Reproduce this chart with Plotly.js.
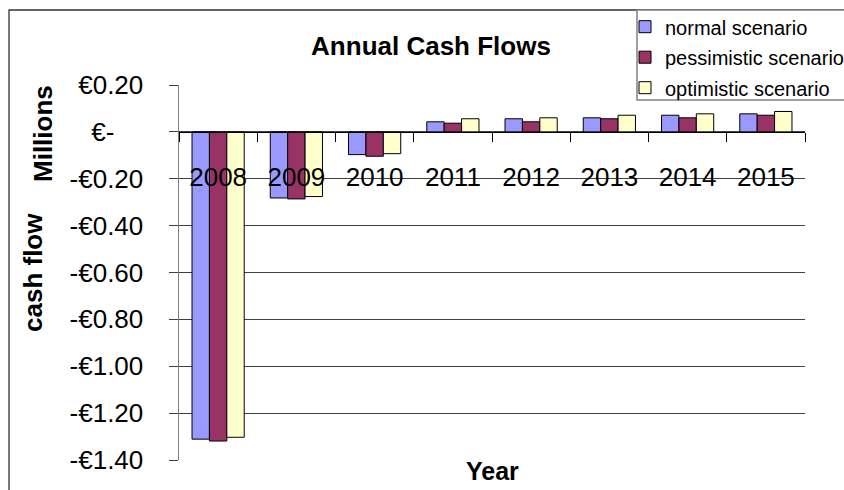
<!DOCTYPE html>
<html>
<head>
<meta charset="utf-8">
<script src="https://cdn.plot.ly/plotly-3.0.1.min.js"></script>
<style>
  html, body { margin: 0; padding: 0; background: #fff; }
  #chart { width: 844px; height: 490px; }
</style>
</head>
<body>
<div id="chart"></div>
<script>
// ---- data ----
const categories = ['2008', '2009', '2010', '2011', '2012', '2013', '2014', '2015'];
const normalScenario      = [-1.311, -0.282, -0.097, 0.043, 0.056, 0.060, 0.071, 0.077];
const pessimisticScenario = [-1.319, -0.286, -0.104, 0.037, 0.043, 0.056, 0.060, 0.071];
const optimisticScenario  = [-1.303, -0.276, -0.093, 0.056, 0.060, 0.071, 0.077, 0.087];
const seriesNames = ['normal scenario', 'pessimistic scenario', 'optimistic scenario'];
const yTickVals = [0.2, 0, -0.2, -0.4, -0.6, -0.8, -1.0, -1.2, -1.4];
const yTickText = ['€0.20', '€-\u00a0\u00a0\u00a0\u00a0', '-€0.20', '-€0.40', '-€0.60', '-€0.80', '-€1.00', '-€1.20', '-€1.40'];

const FONT = 'Arial, "Liberation Sans", sans-serif';
const colors = ['#9999FF', '#993366', '#FFFFCC'];
const seriesValues = [normalScenario, pessimisticScenario, optimisticScenario];

const traces = seriesValues.map((vals, i) => ({
  type: 'bar',
  name: seriesNames[i],
  x: categories,
  y: vals,
  legendgroup: 'g' + i,
  marker: { color: colors[i], line: { color: '#000000', width: 1 } },
  hoverinfo: 'skip'
}));

const layout = {
  width: 844,
  height: 490,
  margin: { l: 179, r: 39, t: 85, b: 30, autoexpand: false },
  paper_bgcolor: '#ffffff',
  plot_bgcolor: '#ffffff',
  font: { family: FONT, color: '#000000' },
  barmode: 'group',
  bargap: 0.333,
  bargroupgap: 0,
  title: {
    text: '<b>Annual Cash Flows</b>',
    font: { family: FONT, size: 26, color: '#000000' },
    xref: 'container', x: 431 / 844, xanchor: 'center',
    yref: 'container', y: 1 - 46.3 / 490, yanchor: 'middle'
  },
  xaxis: {
    type: 'category',
    anchor: 'free',
    position: 0.875,
    showline: true,
    linecolor: '#000000',
    linewidth: 1.3,
    ticks: 'outside',
    tickson: 'boundaries',
    ticklen: 9,
    tickwidth: 1,
    tickcolor: '#000000',
    ticklabelstandoff: 22,
    showgrid: false,
    zeroline: false,
    tickfont: { family: FONT, size: 26, color: '#000000' },
    fixedrange: true
  },
  yaxis: {
    range: [-1.4, 0.2],
    tickmode: 'array',
    tickvals: yTickVals,
    ticktext: yTickText,
    showline: true,
    linecolor: '#808080',
    linewidth: 1.5,
    ticks: 'outside',
    ticklen: 9,
    tickwidth: 1,
    tickcolor: '#404040',
    ticklabelstandoff: 20,
    showgrid: true,
    gridcolor: '#404040',
    gridwidth: 1,
    zeroline: false,
    tickfont: { family: FONT, size: 26, color: '#000000' },
    fixedrange: true
  },
  showlegend: true,
  legend: {
    x: (625 - 179) / 626, xanchor: 'left',
    y: (460 - 7.2) / 375, yanchor: 'top',
    bgcolor: 'rgba(0,0,0,0)',
    borderwidth: 0,
    traceorder: 'grouped',
    tracegroupgap: 1.5,
    font: { family: FONT, size: 20, color: '#000000' }
  },
  shapes: [
    { type: 'rect', xref: 'paper', yref: 'paper', layer: 'below',
      x0: (9 - 179) / 626, x1: (860 - 179) / 626, y0: (460 - 520) / 375, y1: (460 - 10) / 375,
      line: { color: '#333333', width: 1.3 }, fillcolor: 'rgba(0,0,0,0)' },
    { type: 'rect', xref: 'paper', yref: 'paper', layer: 'above',
      x0: (637 - 179) / 626, x1: (860 - 179) / 626, y0: (460 - 100) / 375, y1: (460 - 10) / 375,
      line: { color: '#808080', width: 1.5 }, fillcolor: '#ffffff' }
  ],
  annotations: [
    { text: '<b>cash flow</b>', xref: 'paper', yref: 'paper',
      x: (32.5 - 179) / 626, y: 0.5, xanchor: 'center', yanchor: 'middle',
      textangle: -90, showarrow: false, font: { family: FONT, size: 26, color: '#000000' } },
    { text: '<b>Millions</b>', xref: 'paper', yref: 'paper',
      x: (42.5 - 179) / 626, y: (460 - 133.5) / 375, xanchor: 'center', yanchor: 'middle',
      textangle: -90, showarrow: false, font: { family: FONT, size: 26, color: '#000000' } },
    { text: '<b>Year</b>', xref: 'paper', yref: 'paper',
      x: 0.5, y: (460 - 471) / 375, xanchor: 'center', yanchor: 'middle',
      showarrow: false, font: { family: FONT, size: 25, color: '#000000' } }
  ]
};

Plotly.newPlot('chart', traces, layout, { staticPlot: true, displayModeBar: false });
</script>
</body>
</html>
